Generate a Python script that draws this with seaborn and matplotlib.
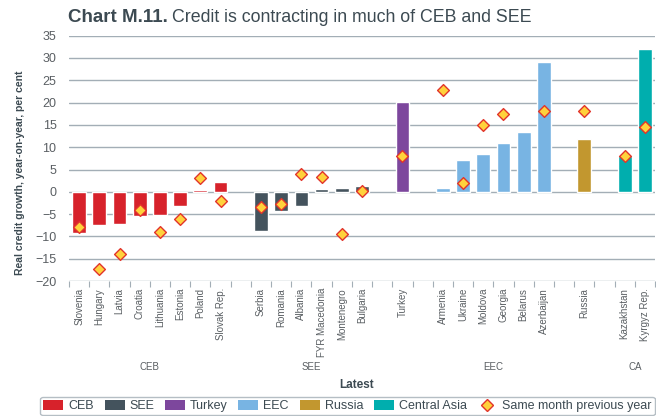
import numpy as np
import pandas as pd
import matplotlib
matplotlib.use("Agg")
import matplotlib.pyplot as plt
import matplotlib.transforms as mtransforms
from matplotlib.patches import Patch
from matplotlib.lines import Line2D
import seaborn as sns

# Values (real credit growth, % y/y)
ceb = ["Slovenia", "Hungary", "Latvia", "Croatia", "Lithuania", "Estonia", "Poland", "Slovak Rep."]
ceb_latest = [-9.3, -7.55, -7.3, -5.5, -5.1, -3.1, 0.5, 2.3]
ceb_prev = [-7.8, -17.4, -14.0, -4.1, -9.0, -6.0, 3.2, -2.0]

see = ["Serbia", "Romania", "Albania", "FYR Macedonia", "Montenegro", "Bulgaria"]
see_latest = [-8.8, -4.4, -3.1, 0.7, 0.95, 1.4]
see_prev = [-3.5, -2.7, 4.0, 3.4, -9.4, 0.1]

turkey = ["Turkey"]
turkey_latest = [20.2]
turkey_prev = [8.0]

eec = ["Armenia", "Ukraine", "Moldova", "Georgia", "Belarus", "Azerbaijan"]
eec_latest = [0.95, 7.2, 8.5, 11.0, 13.45, 29.1]
eec_prev = [22.8, 2.0, 14.9, 17.5, np.nan, 18.2]

russia = ["Russia"]
russia_latest = [11.9]
russia_prev = [18.2]

casia = ["Kazakhstan", "Kyrgyz Rep."]
casia_latest = [8.1, 32.0]
casia_prev = [8.1, 14.6]

groups = ["CEB", "SEE", "Turkey", "EEC", "Russia", "Central Asia"]
group_axis_labels = ["CEB", "SEE", "", "EEC", "", "CA"]
colors = ["#D7222B", "#44535D", "#7D479D", "#78B4E3", "#C2972F", "#00AEAE"]
palette = dict(zip(groups, colors))

members = [ceb, see, turkey, eec, russia, casia]
latest = [ceb_latest, see_latest, turkey_latest, eec_latest, russia_latest, casia_latest]
prev = [ceb_prev, see_prev, turkey_prev, eec_prev, russia_prev, casia_prev]

rows = []
order = []
for k, (g, names) in enumerate(zip(groups, members)):
    for name, v, p in zip(names, latest[k], prev[k]):
        rows.append({"country": name, "group": g, "latest": v, "prev": p})
    order += names
    if k < len(groups) - 1:
        order.append(" " * (k + 1))  # empty slot between groups
df = pd.DataFrame(rows)

sns.set_theme(style="white")
plt.rcParams["font.family"] = ["Liberation Sans", "DejaVu Sans"]
text_col = "#3C4A52"
tick_col = "#5A5F63"

fig = plt.figure(figsize=(6.56, 4.16), dpi=100)
ax = fig.add_axes([69 / 656, 1 - 281 / 416, (655 - 69) / 656, (281 - 35.7) / 416])

sns.barplot(data=df, x="country", y="latest", hue="group", order=order, hue_order=groups,
            palette=palette, dodge=False, width=0.68, saturation=1, errorbar=None,
            legend=False, ax=ax, zorder=2)
sns.stripplot(data=df, x="country", y="prev", order=order, jitter=False, marker="D",
              size=6, color="#FFD23C", edgecolor="#E2342B", linewidth=1, ax=ax, zorder=3)

ax.set_xlim(-0.5, len(order) - 0.5)
ax.set_ylim(-20, 35)
ax.set_yticks(range(-20, 36, 5))
ax.yaxis.grid(True, color="#A3AEB6", lw=1)
ax.set_axisbelow(True)
for s in ax.spines.values():
    s.set_visible(False)

ax.set_xticks(np.arange(-0.5, len(order), 1), minor=True)
ax.tick_params(axis="x", which="major", length=0, pad=5, labelsize=7, labelcolor=tick_col, labelrotation=90)
ax.tick_params(axis="x", which="minor", length=4, width=0.8, color="#A3AEB6", bottom=True)
ax.tick_params(axis="y", length=0, pad=9, labelsize=9, labelcolor=tick_col)
ax.set_xlabel("")
ax.set_ylabel("")

# group labels under the country names
trans = mtransforms.blended_transform_factory(ax.transData, fig.transFigure)
for names, lab in zip(members, group_axis_labels):
    if lab:
        pos = [order.index(n) for n in names]
        ax.text(np.mean(pos), 1 - 367 / 416, lab, transform=trans, ha="center", va="center",
                fontsize=7, color=tick_col)

fig.text(357 / 656, 1 - 385 / 416, "Latest", ha="center", va="center", fontsize=8.5,
         fontweight="bold", color=text_col)
fig.text(20 / 656, 1 - 172.5 / 416, "Real credit growth, year-on-year, per cent", rotation=90,
         ha="center", va="center", fontsize=7.5, fontweight="bold", color=text_col)

# title: bold prefix + regular text
t1 = fig.text(68 / 656, 1 - 17 / 416, "Chart M.11.", ha="left", va="center", fontsize=13.5,
              fontweight="bold", color=text_col)
fig.canvas.draw()
bb = t1.get_window_extent().transformed(fig.transFigure.inverted())
fig.text(bb.x1 + 4 / 656, 1 - 17 / 416, "Credit is contracting in much of CEB and SEE", ha="left",
         va="center", fontsize=12.8, color=text_col)

handles = [Patch(facecolor=c, edgecolor="none", label=g) for g, c in zip(groups, colors)]
handles.append(Line2D([], [], marker="D", ls="", markersize=6, markerfacecolor="#FFD23C",
                      markeredgecolor="#E2342B", markeredgewidth=1, label="Same month previous year"))
leg = fig.legend(handles=handles, loc="center", bbox_to_anchor=(347.5 / 656, 1 - 406 / 416), ncol=7,
                 fontsize=9, frameon=True, fancybox=True, edgecolor="#A3AEB6", handlelength=1.6,
                 handleheight=0.8, handletextpad=0.4, columnspacing=0.85, borderpad=0.25,
                 labelcolor=text_col)
leg.get_frame().set_linewidth(1)

fig.savefig("out.png", dpi=100)
